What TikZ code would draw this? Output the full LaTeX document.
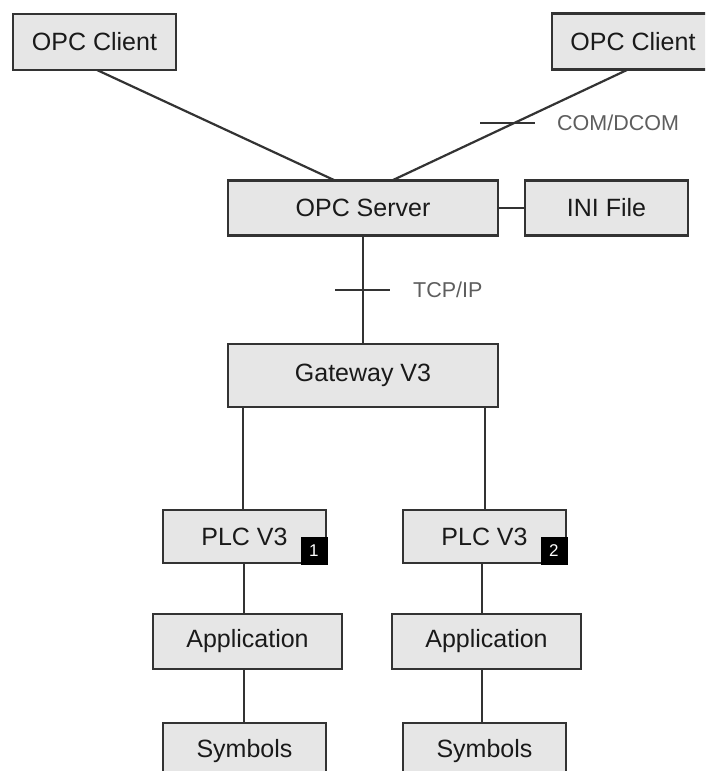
\documentclass[tikz,border=0pt]{standalone}
\usepackage{fontspec}
\setmainfont{Liberation Sans}
\usetikzlibrary{calc}
\definecolor{boxfill}{HTML}{E6E6E6}
\definecolor{edge}{HTML}{333333}
\definecolor{txt}{HTML}{1A1A1A}
\definecolor{lbl}{HTML}{5E5E5E}
\tikzset{
  blk/.style={draw=edge, line width=2.2pt, fill=boxfill, rectangle, inner sep=0pt,
    font=\fontsize{25}{29}\selectfont, text=txt},
  conn/.style={draw=edge, line width=2.2pt},
  lab/.style={font=\fontsize{21.5}{25}\selectfont, text=lbl, anchor=west, inner sep=0pt},
  badge/.style={fill=black, draw=black, inner sep=0pt, minimum width=26pt, minimum height=27pt,
    font=\fontsize{17}{19}\selectfont, text=white, anchor=south east}
}
\begin{document}
\begin{tikzpicture}[x=1pt,y=-1pt]
\clip (0,0) rectangle (705,771);
\fill[white] (0,0) rectangle (705,771);
% boxes
\node[blk, minimum width=163pt, minimum height=56pt] (lc) at (94.5,42) {OPC Client};
\node[blk, minimum width=162pt, minimum height=56pt] (rc) at (633,41.5) {OPC Client};
\node[blk, minimum width=270pt, minimum height=55pt] (srv) at (363,208) {OPC Server};
\node[blk, minimum width=163pt, minimum height=55pt] (ini) at (606.5,208) {INI File};
\node[blk, minimum width=270pt, minimum height=63pt] (gw) at (363,375.5) {Gateway V3};
\node[blk, minimum width=163pt, minimum height=53pt] (p1) at (244.5,536.5) {PLC V3};
\node[blk, minimum width=163pt, minimum height=53pt] (p2) at (484.5,536.5) {PLC V3};
\node[badge] (b1) at (p1.south east) {1};
\node[badge] (b2) at (p2.south east) {2};
\node[blk, minimum width=189pt, minimum height=55pt] (a1) at (247.5,641.5) {Application};
\node[blk, minimum width=189pt, minimum height=55pt] (a2) at (486.5,641.5) {Application};
\node[blk, minimum width=163pt, minimum height=56pt] (s1) at (244.5,751) {Symbols};
\node[blk, minimum width=163pt, minimum height=56pt] (s2) at (484.5,751) {Symbols};
% connector end coordinates
\coordinate (lcb) at (97,70);
\coordinate (srvl) at (335,180.5);
\coordinate (rcb) at (628,69.5);
\coordinate (srvr) at (392,180.5);
\coordinate (gl) at (243,407);
\coordinate (gr) at (485,407);
% connectors
\draw[conn] (lcb) -- (srvl);
\draw[conn] (rcb) -- (srvr);
\draw[conn] (srv.east) -- (ini.west);
\draw[conn] (srv.south) -- (gw.north);
\draw[conn] (gl) -- (gl |- p1.north);
\draw[conn] (gr) -- (gr |- p2.north);
\draw[conn] (p1.south -| 244,0) -- (a1.north -| 244,0);
\draw[conn] (p2.south -| 482,0) -- (a2.north -| 482,0);
\draw[conn] (a1.south -| 244,0) -- (s1.north -| 244,0);
\draw[conn] (a2.south -| 482,0) -- (s2.north -| 482,0);
% ticks
\coordinate (t1) at ($(rcb)!0.482!(srvr)$);
\draw[conn] ($(t1)+(-34,0)$) coordinate (t1a) -- ($(t1)+(21,0)$) coordinate (t1b);
\coordinate (t2) at (363,290);
\draw[conn] ($(t2)+(-28,0)$) coordinate (t2a) -- ($(t2)+(27,0)$) coordinate (t2b);
% labels
\node[lab] (com) at (557,123) {COM/DCOM};
\node[lab] (tcp) at (413,290) {TCP/IP};
\end{tikzpicture}
\end{document}
